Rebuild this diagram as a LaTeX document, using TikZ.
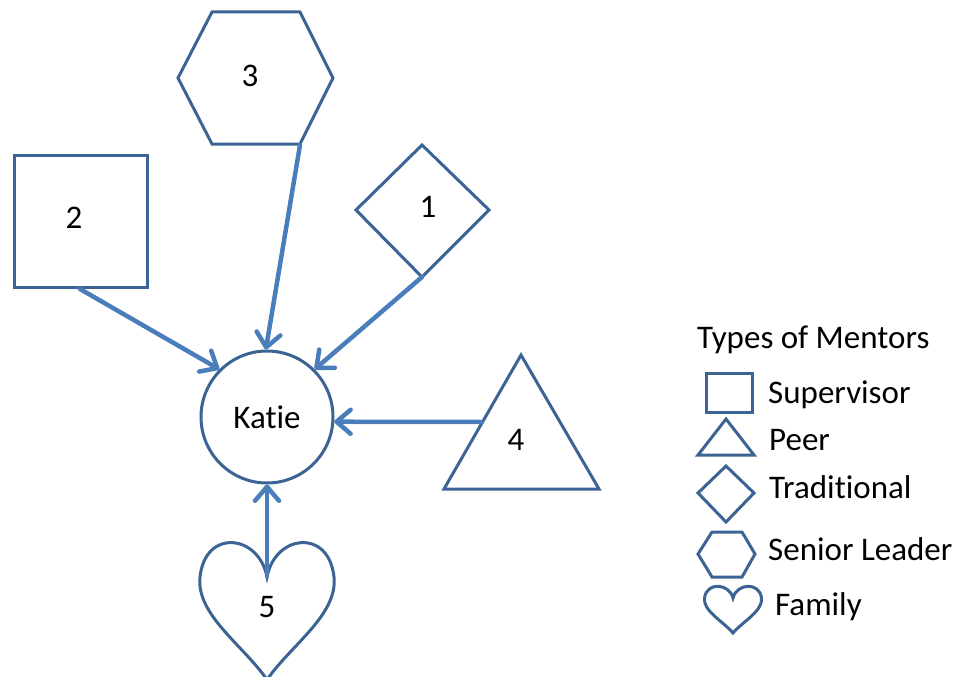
\documentclass[tikz,border=0pt]{standalone}
\usepackage{fontspec}
\setmainfont[Ligatures=NoCommon]{Carlito}
\usetikzlibrary{arrows.meta}
\definecolor{shapeblue}{HTML}{3B6494}
\definecolor{arrowblue}{HTML}{4A7EBB}
\tikzset{
  outline/.style={draw=shapeblue, line width=3pt, line join=miter},
  link/.style={draw=arrowblue, line width=4.5pt, line cap=round,
    -{Straight Barb[length=14pt,width=24pt,round]}},
  txt/.style={font=\fontsize{33}{38}\selectfont, inner sep=0pt, text=black},
}
% heart outline, notch at the origin, unit half-width
\newcommand\mentorheart{(0,0) .. controls (0.12,0.62) and (0.92,0.72) .. (1,0)
  .. controls (1.06,-0.55) and (0.35,-1.0) .. (0,-1.5)
  .. controls (-0.35,-1.0) and (-1.06,-0.55) .. (-1,0)
  .. controls (-0.92,0.72) and (-0.12,0.62) .. (0,0) -- cycle}
\begin{document}
\begin{tikzpicture}[x=1pt,y=-1pt]
\useasboundingbox (0,0) rectangle (958,677);

% Katie
\node[outline, circle, minimum size=132pt, inner sep=0pt] (katie) at (267,417) {};
\node[txt] (katietext) at (267,417) {Katie};

% 3: senior leader (hexagon)
\draw[outline] (212,12) -- (300,12) -- (333,78) -- (300,144) -- (212,144) -- (178,78) -- cycle;
\coordinate (hexfoot) at (300,145);
\node[txt] (n3) at (250,76) {3};

% 2: supervisor (square)
\draw[outline] (14,155) rectangle (147,287);
\coordinate (sqfoot) at (80,289);
\node[txt] (n2) at (74,218) {2};

% 1: traditional (diamond)
\draw[outline] (422,145) -- (489,210) -- (422,277) -- (356,210) -- cycle;
\coordinate (diafoot) at (422,277);
\node[txt] (n1) at (428,207) {1};

% 4: peer (triangle)
\draw[outline] (521,355) -- (599,489) -- (444,489) -- cycle;
\coordinate (triside) at (482,422);
\node[txt] (n4) at (516,440) {4};

% 5: family (heart)
\begin{scope}[shift={(267,577)}, xscale=67, yscale=-68.5]
  \draw[outline] \mentorheart;
\end{scope}
\coordinate (heartnotch) at (267,576);
\node[txt] (n5) at (267,607) {5};

% connectors
\draw[link] (hexfoot) -- (katie.91);
\draw[link] (sqfoot) -- (katie.135);
\draw[link] (diafoot) -- (katie.45);
\draw[link] (triside) -- (katie.-4);
\draw[link] (heartnotch) -- (katie.south);

% legend
\node[txt, anchor=base west] (ltitle) at (697,348) {Types of Mentors};
\draw[outline] (706,373) rectangle (752,412);
\node[txt, anchor=base west] (lsup) at (768,403) {Supervisor};
\draw[outline] (726,419) -- (754,455) -- (698,455) -- cycle;
\node[txt, anchor=base west] (lpeer) at (769,450) {Peer};
\draw[outline] (726,466) -- (754,493) -- (726,522) -- (698,493) -- cycle;
\node[txt, anchor=base west] (ltrad) at (769,498) {Traditional};
\draw[outline] (712,532) -- (742,532) -- (755,554) -- (742,577) -- (712,577) -- (698,554) -- cycle;
\node[txt, anchor=base west] (lsen) at (768,560) {Senior Leader};
\begin{scope}[shift={(733,598)}, xscale=28.5, yscale=-23.3]
  \draw[outline] \mentorheart;
\end{scope}
\node[txt, anchor=base west] (lfam) at (775,615) {Family};
\end{tikzpicture}
\end{document}
